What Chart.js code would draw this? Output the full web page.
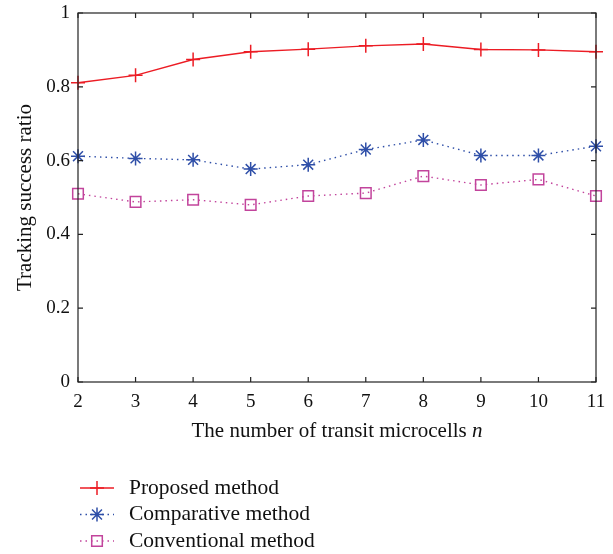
<!DOCTYPE html>
<html>
<head>
<meta charset="utf-8">
<script src="https://cdn.jsdelivr.net/npm/chart.js@4/dist/chart.umd.min.js"></script>
<style>
  html, body { margin: 0; padding: 0; background: #fff; }
  #wrap { width: 613px; height: 554px; }
</style>
</head>
<body>
<div id="wrap"><canvas id="trackChart" width="613" height="554"></canvas></div>
<script>
// data
const nValues = [2, 3, 4, 5, 6, 7, 8, 9, 10, 11];
const proposed = [0.811, 0.831, 0.874, 0.895, 0.902, 0.911, 0.916, 0.901, 0.900, 0.895];
const comparative = [0.612, 0.606, 0.602, 0.577, 0.589, 0.630, 0.656, 0.614, 0.614, 0.639];
const conventional = [0.510, 0.488, 0.494, 0.480, 0.504, 0.512, 0.558, 0.534, 0.549, 0.504];
const yTicks = [0, 0.2, 0.4, 0.6, 0.8, 1];

const FONT = '"Liberation Serif", "DejaVu Serif", serif';
const RED = '#ec1c24';
const BLUE = '#2f4fa8';
const MAGENTA = '#c2449c';

function toPoints(ys) {
    return nValues.map((n, i) => ({ x: n, y: ys[i] }));
}

const series = [
    { label: 'Proposed method', data: proposed, color: RED, dash: [], style: 'cross', radius: 7 },
    { label: 'Comparative method', data: comparative, color: BLUE, dash: [1.5, 4], style: 'star', radius: 7 },
    { label: 'Conventional method', data: conventional, color: MAGENTA, dash: [1.5, 4], style: 'rect', radius: 7.5 }
];

// frame with inward ticks, axis titles and the legend under the plot
const framePlugin = {
    id: 'frame',
    afterDraw(chart) {
        const ctx = chart.ctx;
        const a = chart.chartArea;
        const xs = chart.scales.x;
        const ys = chart.scales.y;
        ctx.save();
        ctx.strokeStyle = '#222';
        ctx.lineWidth = 1.2;
        ctx.strokeRect(a.left, a.top, a.right - a.left, a.bottom - a.top);
        ctx.beginPath();
        nValues.forEach(n => {
            const px = xs.getPixelForValue(n);
            ctx.moveTo(px, a.bottom); ctx.lineTo(px, a.bottom - 5);
            ctx.moveTo(px, a.top); ctx.lineTo(px, a.top + 5);
        });
        yTicks.forEach(v => {
            const py = ys.getPixelForValue(v);
            ctx.moveTo(a.left, py); ctx.lineTo(a.left + 5, py);
            ctx.moveTo(a.right, py); ctx.lineTo(a.right - 5, py);
        });
        ctx.stroke();

        // x title, with italic n
        ctx.fillStyle = '#111';
        ctx.textBaseline = 'middle';
        const main = 'The number of transit microcells ';
        ctx.font = '21px ' + FONT;
        const w1 = ctx.measureText(main).width;
        ctx.font = 'italic 21px ' + FONT;
        const w2 = ctx.measureText('n').width;
        const x0 = (a.left + a.right) / 2 - (w1 + w2) / 2;
        ctx.textAlign = 'left';
        ctx.font = '21px ' + FONT;
        ctx.fillText(main, x0, 431);
        ctx.font = 'italic 21px ' + FONT;
        ctx.fillText('n', x0 + w1, 431);

        // y title
        ctx.save();
        ctx.translate(25, (a.top + a.bottom) / 2);
        ctx.rotate(-Math.PI / 2);
        ctx.textAlign = 'center';
        ctx.font = '21px ' + FONT;
        ctx.fillText('Tracking success ratio', 0, 0);
        ctx.restore();

        // legend
        series.forEach((s, i) => {
            const y = 488 + i * 26.5;
            ctx.strokeStyle = s.color;
            ctx.fillStyle = 'rgba(0,0,0,0)';
            ctx.lineWidth = 1.3;
            ctx.setLineDash(s.dash);
            ctx.beginPath();
            ctx.moveTo(80, y); ctx.lineTo(114, y);
            ctx.stroke();
            ctx.setLineDash([]);
            ctx.lineWidth = 1.5;
            Chart.helpers.drawPoint(ctx, {
                pointStyle: s.style, radius: s.radius, borderWidth: 1.5, rotation: 0
            }, 97, y);
            ctx.fillStyle = '#111';
            ctx.font = '21.5px ' + FONT;
            ctx.textBaseline = 'middle';
            ctx.textAlign = 'left';
            ctx.fillText(s.label, 129, y);
        });
        ctx.restore();
    }
};

new Chart(document.getElementById('trackChart').getContext('2d'), {
    type: 'line',
    data: {
        datasets: series.map(s => ({
            label: s.label,
            data: toPoints(s.data),
            borderColor: s.color,
            backgroundColor: 'transparent',
            borderWidth: 1.4,
            borderDash: s.dash,
            pointStyle: s.style,
            pointRadius: s.radius,
            pointBorderWidth: 1.5,
            pointBorderColor: s.color,
            pointBackgroundColor: 'transparent',
            tension: 0,
            clip: false
        }))
    },
    options: {
        responsive: false,
        animation: false,
        layout: { padding: { left: 0, right: 17, top: 13, bottom: 102 } },
        plugins: {
            legend: { display: false },
            tooltip: { enabled: false }
        },
        scales: {
            x: {
                type: 'linear',
                min: 2,
                max: 11,
                afterBuildTicks: axis => { axis.ticks = nValues.map(v => ({ value: v })); },
                afterFit: axis => {
                    axis.height = 70;
                    axis.paddingLeft = 0;
                    axis.paddingRight = 0;
                },
                grid: { display: false, drawTicks: false },
                border: { display: false },
                ticks: {
                    color: '#111',
                    padding: 9,
                    font: { family: FONT, size: 19 },
                    maxRotation: 0
                },
                title: { display: false }
            },
            y: {
                min: 0,
                max: 1,
                afterBuildTicks: axis => { axis.ticks = yTicks.map(v => ({ value: v })); },
                afterFit: axis => {
                    axis.width = 78;
                    axis.paddingTop = 0;
                    axis.paddingBottom = 0;
                },
                grid: { display: false, drawTicks: false },
                border: { display: false },
                ticks: {
                    color: '#111',
                    padding: 8,
                    font: { family: FONT, size: 19 },
                    callback: v => String(Math.round(v * 10) / 10)
                },
                title: { display: false }
            }
        }
    },
    plugins: [framePlugin]
});
</script>
</body>
</html>
